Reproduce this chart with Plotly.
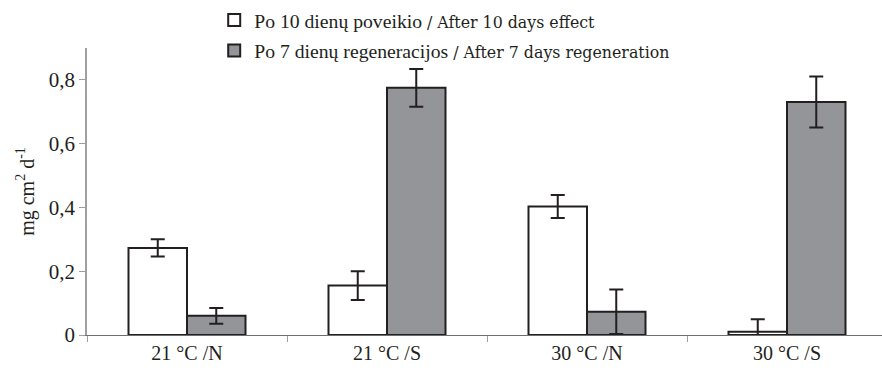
import plotly.graph_objects as go

categories = ["21 °C /N", "21 °C /S", "30 °C /N", "30 °C /S"]
effect_vals = [0.273, 0.155, 0.403, 0.010]
effect_err = [0.027, 0.045, 0.036, 0.039]
regen_vals = [0.060, 0.775, 0.073, 0.731]
regen_err = [0.025, 0.059, 0.070, 0.080]
ytick_vals = [0, 0.2, 0.4, 0.6, 0.8]
ytick_text = ["0", "0,2", "0,4", "0,6", "0,8"]

en_style = "font-family:DejaVu Serif;font-size:15.8px"
name1 = f"Po 10 dienų poveikio <span style='{en_style}'>/ After 10 days effect</span>"
name2 = f"Po 7 dienų regeneracijos <span style='{en_style}'>/ After 7 days regeneration</span>"

ink = "#231f20"
fig = go.Figure()
fig.add_trace(go.Bar(
    x=categories, y=effect_vals, name=name1, legendgroup="a",
    marker=dict(color="white", line=dict(color=ink, width=2)),
    error_y=dict(type="data", array=effect_err, color=ink, thickness=2, width=7),
))
fig.add_trace(go.Bar(
    x=categories, y=regen_vals, name=name2, legendgroup="b",
    marker=dict(color="#939598", line=dict(color=ink, width=2)),
    error_y=dict(type="data", array=regen_err, color=ink, thickness=2, width=7),
))

fig.update_layout(
    width=882, height=371,
    margin=dict(l=87, r=0, t=48, b=36),
    paper_bgcolor="white", plot_bgcolor="white",
    font=dict(family="Liberation Serif", size=18, color=ink),
    barmode="group", bargap=0.415, bargroupgap=0,
    showlegend=True,
    legend=dict(x=0.16, y=1.165, xanchor="left", yanchor="top",
                font=dict(size=19.7, family="Liberation Serif", color=ink),
                traceorder="grouped", tracegroupgap=2,
                bgcolor="rgba(0,0,0,0)", itemwidth=30),
    xaxis=dict(range=[-0.5, 3.475], showline=True, linecolor="#6d6e71", linewidth=1,
               ticks="outside", tickson="boundaries", ticklen=6, tickcolor="#9d9fa2",
               showgrid=False, tickfont=dict(size=20, family="Liberation Serif"), zeroline=False),
    yaxis=dict(range=[0, 0.9], showline=True, linecolor="#9d9fa2", linewidth=1.5,
               ticks="outside", ticklen=6, tickcolor="#9d9fa2",
               tickvals=ytick_vals, ticktext=ytick_text,
               tickfont=dict(size=21, family="Liberation Serif"),
               showgrid=False, zeroline=False,
               title=dict(text="mg cm<sup>2</sup> d<sup>-1</sup>",
                          font=dict(size=20, family="Liberation Serif"), standoff=9)),
)

fig.write_html("out.html")
